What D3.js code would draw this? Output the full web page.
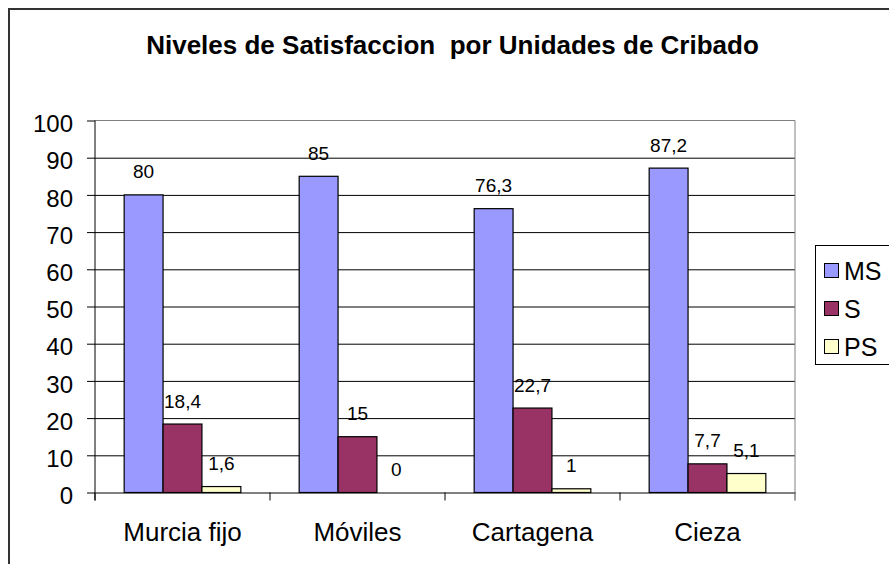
<!DOCTYPE html>
<html>
<head>
<meta charset="utf-8">
<script src="https://cdn.jsdelivr.net/npm/d3@7"></script>
<style>
  html, body { margin: 0; padding: 0; background: #fff; }
  svg { display: block; font-family: "Liberation Sans", Arial, sans-serif; }
</style>
</head>
<body>
<div id="chart"></div>
<script>
// data
let categories = ['Murcia fijo', 'Móviles', 'Cartagena', 'Cieza']
let series = ['MS', 'S', 'PS']
let msValues = [80, 85, 76.3, 87.2]
let sValues = [18.4, 15, 22.7, 7.7]
let psValues = [1.6, 0, 1, 5.1]
let yTicks = [0, 10, 20, 30, 40, 50, 60, 70, 80, 90, 100]
let title = 'Niveles de Satisfaccion  por Unidades de Cribado'

let colors = {MS: '#9999FF', S: '#993366', PS: '#FFFFCC'}
let valuesBySeries = {MS: msValues, S: sValues, PS: psValues}

let W = 889, H = 564
let plot = {left: 95, right: 795, top: 120.5, bottom: 492.5}

let svg = d3.select('#chart').append('svg')
    .attr('width', W)
    .attr('height', H)

// outer frame (cut at right / bottom like the picture)
svg.append('rect')
    .attr('x', 9).attr('y', 9)
    .attr('width', W + 20).attr('height', H + 20)
    .attr('fill', '#fff')
    .attr('stroke', '#333')
    .attr('stroke-width', 2)

svg.append('text')
    .attr('x', 452.5)
    .attr('y', 54)
    .attr('text-anchor', 'middle')
    .attr('font-size', '26px')
    .attr('font-weight', 'bold')
    .style('white-space', 'pre')
    .text(title)

let x = d3.scaleBand()
    .domain(categories)
    .range([plot.left, plot.right])

let xs = d3.scaleBand()
    .domain(series)
    .range([0, x.bandwidth()])
    .paddingInner(0)
    .paddingOuter(0.75)

let y = d3.scaleLinear()
    .domain([0, 100])
    .range([plot.bottom, plot.top])

// gridlines
let grid = svg.append('g')
    .attr('transform', 'translate(' + plot.left + ',0)')
    .call(d3.axisLeft(y).tickValues(yTicks.slice(1, -1)).tickSize(-(plot.right - plot.left)).tickFormat(''))
grid.select('.domain').remove()
grid.selectAll('line').attr('stroke', '#000')

// plot area border (top / right in gray)
svg.append('path')
    .attr('d', 'M' + plot.left + ',' + y(100) + 'H' + plot.right + 'V' + (plot.bottom + 8))
    .attr('fill', 'none')
    .attr('stroke', '#808080')
    .attr('stroke-width', 1)

// bars
let rows = []
categories.forEach((c, i) => {
    series.forEach(s => {
        rows.push({cat: c, ser: s, value: valuesBySeries[s][i]})
    })
})

let bars = svg.append('g')
bars.selectAll('rect')
    .data(rows)
    .enter()
    .append('rect')
    .attr('x', d => x(d.cat) + xs(d.ser))
    .attr('y', d => y(d.value))
    .attr('width', xs.bandwidth())
    .attr('height', d => y(0) - y(d.value))
    .attr('fill', d => colors[d.ser])
    .attr('stroke', d => d.value > 0 ? '#000' : 'none')
    .attr('stroke-width', 1.2)

// value labels
bars.selectAll('text')
    .data(rows)
    .enter()
    .append('text')
    .attr('x', d => x(d.cat) + xs(d.ser) + xs.bandwidth() / 2)
    .attr('y', d => y(d.value) - 16.5)
    .attr('text-anchor', 'middle')
    .attr('font-size', '19px')
    .attr('fill', '#000')
    .text(d => String(d.value).replace('.', ','))

// y axis
let yg = svg.append('g')
    .attr('transform', 'translate(' + plot.left + ',0)')
    .call(d3.axisLeft(y).tickValues(yTicks).tickSize(8).tickPadding(14))
yg.select('.domain').remove()
yg.selectAll('line').attr('stroke', '#000')
yg.selectAll('text')
    .attr('font-size', '24px')
    .attr('font-family', '"Liberation Sans", Arial, sans-serif')
    .attr('dy', '0.47em')
    .attr('fill', '#000')

svg.append('line')
    .attr('x1', plot.left).attr('x2', plot.left)
    .attr('y1', y(100)).attr('y2', plot.bottom + 8)
    .attr('stroke', '#000')

// x axis
let xg = svg.append('g')
    .attr('transform', 'translate(0,' + plot.bottom + ')')
    .call(d3.axisBottom(x).tickSize(0).tickPadding(30))
xg.select('.domain').attr('stroke', '#000')
xg.selectAll('text')
    .attr('font-size', '26px')
    .attr('font-family', '"Liberation Sans", Arial, sans-serif')
    .attr('fill', '#000')

let bounds = categories.map(c => x(c)).concat([x.range()[1]])
xg.selectAll('.bound')
    .data(bounds)
    .enter()
    .append('line')
    .attr('class', 'bound')
    .attr('x1', d => d).attr('x2', d => d)
    .attr('y1', 0).attr('y2', 8)
    .attr('stroke', (d, i) => i === bounds.length - 1 ? '#808080' : '#000')

// legend
let lg = svg.append('g')
lg.append('rect')
    .attr('x', 815.5).attr('y', 245.5)
    .attr('width', 90).attr('height', 119)
    .attr('fill', '#fff')
    .attr('stroke', '#000')

let ly = d3.scalePoint().domain(series).range([271, 347])

let item = lg.selectAll('.item')
    .data(series)
    .enter()
    .append('g')
    .attr('class', 'item')
    .attr('transform', d => 'translate(824,' + ly(d) + ')')

item.append('rect')
    .attr('x', 0.5).attr('y', -7.5)
    .attr('width', 14).attr('height', 14)
    .attr('fill', d => colors[d])
    .attr('stroke', '#000')

item.append('text')
    .attr('x', 20)
    .attr('y', 8.5)
    .attr('font-size', '25px')
    .text(d => d)
</script>
</body>
</html>
